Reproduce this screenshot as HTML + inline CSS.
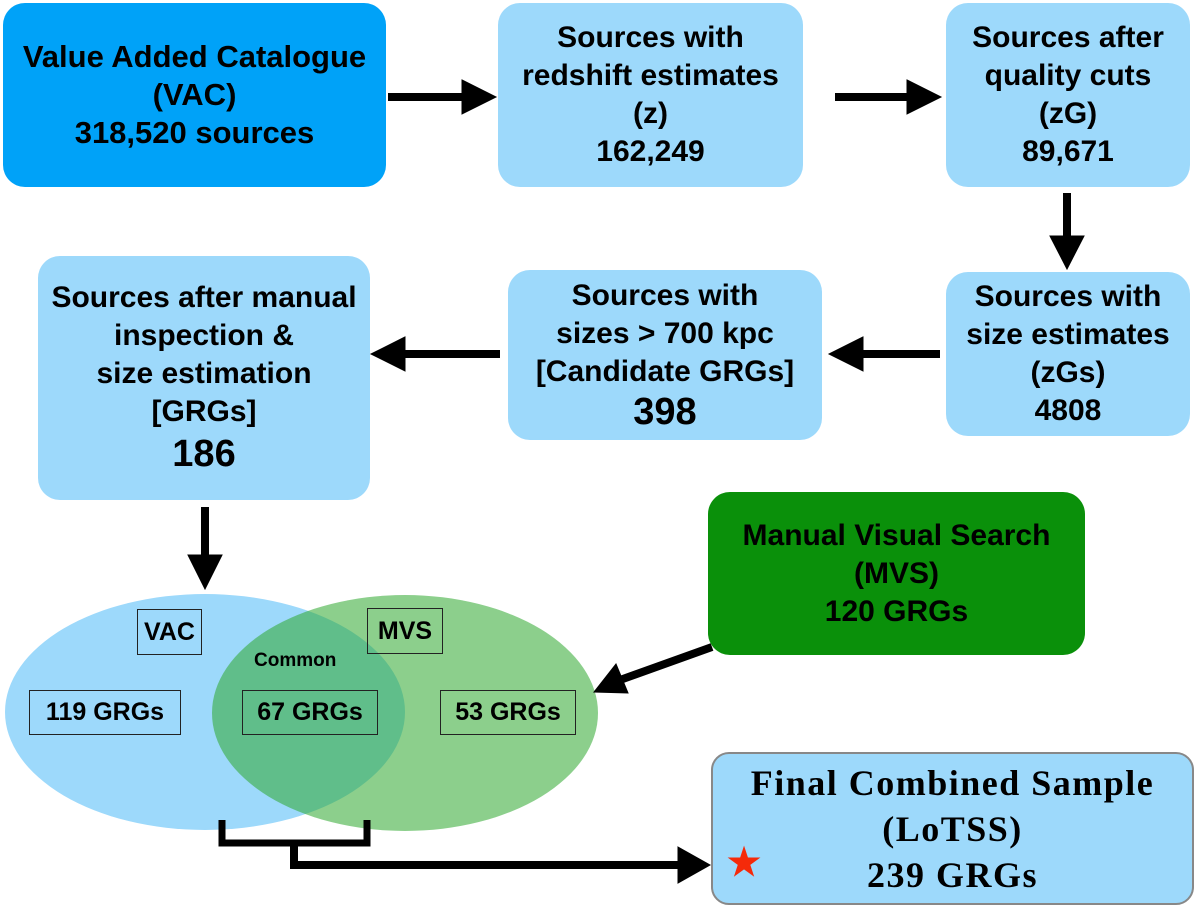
<!DOCTYPE html>
<html><head><style>
body{margin:0;width:1200px;height:910px;background:#fff;position:relative;overflow:hidden;font-family:"Liberation Sans",sans-serif;font-weight:bold;color:#000}
.b{position:absolute;display:flex;align-items:center;justify-content:center;text-align:center;border-radius:22px;background:#9dd9fb;font-size:30px;line-height:38px;white-space:nowrap}
.l{position:absolute;border:1.5px solid #222;font-size:25px;display:flex;align-items:center;justify-content:center}
</style></head><body>
<div class="b" style="left:3px;top:3px;width:383px;height:184px;background:#00a2f8;font-size:31px"><div>Value Added Catalogue<br>(VAC)<br>318,520 sources</div></div>
<div class="b" style="left:498px;top:3px;width:305px;height:184px"><div>Sources with<br>redshift estimates<br>(z)<br>162,249</div></div>
<div class="b" style="left:946px;top:3px;width:244px;height:184px"><div>Sources after<br>quality cuts<br>(zG)<br>89,671</div></div>
<div class="b" style="left:946px;top:272px;width:244px;height:164px"><div>Sources with<br>size estimates<br>(zGs)<br>4808</div></div>
<div class="b" style="left:508px;top:270px;width:314px;height:170px"><div>Sources with<br>sizes &gt; 700 kpc<br>[Candidate GRGs]<br><span style="font-size:38px;line-height:42px">398</span></div></div>
<div class="b" style="left:38px;top:256px;width:332px;height:244px"><div>Sources after manual<br>inspection &amp;<br>size estimation<br>[GRGs]<br><span style="font-size:38px;line-height:46px">186</span></div></div>
<div class="b" style="left:708px;top:492px;width:377px;height:163px;background:#0a900a"><div>Manual Visual Search<br>(MVS)<br>120 GRGs</div></div>
<svg style="position:absolute;left:0;top:0" width="1200" height="910">
<ellipse cx="205" cy="712" rx="200" ry="118" fill="#9dd9fb"/>
<ellipse cx="405" cy="713" rx="193" ry="118" fill="#2ea82e" fill-opacity="0.55"/>
<g fill="#000" stroke="#000">
<line x1="388" y1="97" x2="465" y2="97" stroke-width="8"/><polygon points="462,80 496,97 462,114"/>
<line x1="835" y1="97" x2="910" y2="97" stroke-width="8"/><polygon points="907,80 941,97 907,114"/>
<line x1="1067" y1="193" x2="1067" y2="240" stroke-width="8"/><polygon points="1050,236 1067,269 1084,236"/>
<line x1="940" y1="354" x2="860" y2="354" stroke-width="8"/><polygon points="863,337 829,354 863,371"/>
<line x1="500" y1="354" x2="402" y2="354" stroke-width="8"/><polygon points="405,337 371,354 405,371"/>
<line x1="205" y1="507" x2="205" y2="558" stroke-width="8"/><polygon points="188,555 205,589 222,555"/>
<line x1="712" y1="647" x2="620" y2="680" stroke-width="8"/><polygon points="594,692 616,664 628,693"/>
<polyline points="222,820 222,843 367,843 367,820" fill="none" stroke-width="7"/>
<polyline points="294,843 294,865 680,865" fill="none" stroke-width="8"/><polygon points="678,847 710,865 678,883"/>
</g></svg>
<div class="l" style="left:137px;top:609px;width:63px;height:44px">VAC</div>
<div class="l" style="left:367px;top:608px;width:74px;height:44px">MVS</div>
<div class="l" style="left:29px;top:690px;width:150px;height:43px">119 GRGs</div>
<div class="l" style="left:242px;top:690px;width:134px;height:43px">67 GRGs</div>
<div class="l" style="left:440px;top:690px;width:134px;height:43px">53 GRGs</div>
<div style="position:absolute;left:254px;top:650px;font-size:19px">Common</div>
<div class="b" style="left:711px;top:752px;width:479px;height:149px;border:2px solid #888;border-radius:18px;font-family:'Liberation Serif',serif;font-weight:900;font-size:36px;letter-spacing:1.5px;line-height:46px"><div>Final Combined Sample<br>(LoTSS)<br>239 GRGs</div></div>
<div style="position:absolute;left:727px;top:840px;color:#f52a0a;font-size:38px">★</div>
</body></html>
